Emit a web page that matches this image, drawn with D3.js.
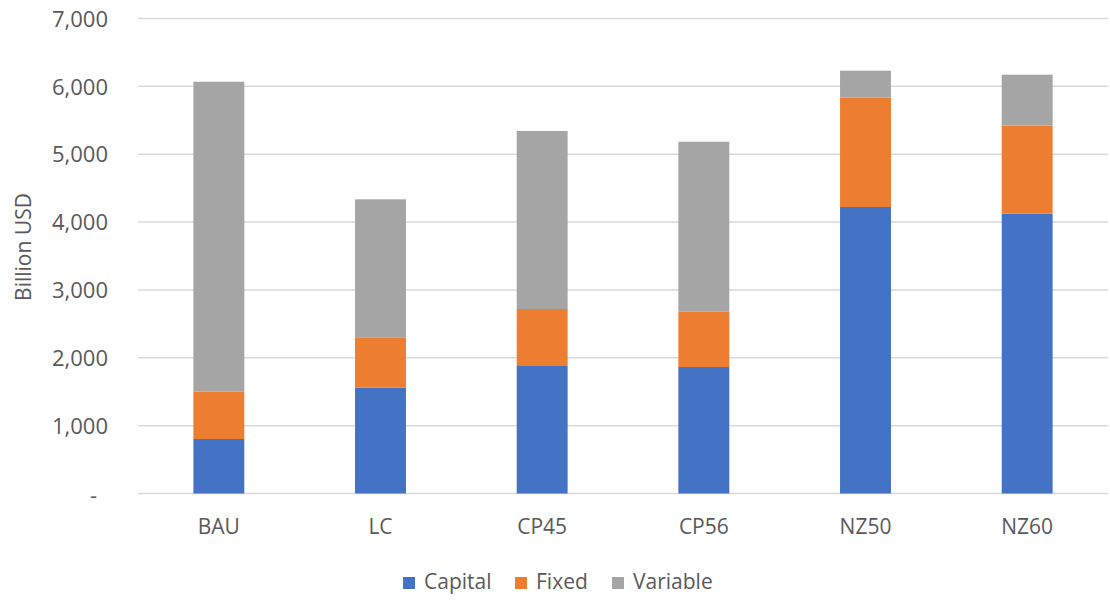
<!DOCTYPE html>
<html>
<head>
<meta charset="utf-8">
<script src="https://cdn.jsdelivr.net/npm/d3@7"></script>
<style>
  html, body { margin: 0; padding: 0; background: #fff; }
  svg text { font-family: "Open Sans", "Noto Sans", sans-serif; fill: #595959; }
</style>
</head>
<body>
<svg id="chart" width="1110" height="601"></svg>
<script>
// Scenario costs, billion USD
const scenarios = ["BAU", "LC", "CP45", "CP56", "NZ50", "NZ60"];
const capital  = [803, 1559, 1879, 1864, 4222, 4123];
const fixed    = [697, 743, 840, 815, 1611, 1297];
const variable = [4568, 2033, 2623, 2505, 398, 752];
const seriesNames = ["Capital", "Fixed", "Variable"];
const seriesColors = ["#4472c4", "#ed7d31", "#a5a5a5"];
const yTicks = [0, 1000, 2000, 3000, 4000, 5000, 6000, 7000];

const svg = d3.select("#chart");
const margin = { left: 138, right: 2, top: 18.5, bottom: 107.5 };
const W = 1110, H = 601;

const x = d3.scaleBand()
  .domain(scenarios)
  .range([margin.left, W - margin.right])
  .paddingInner(0.685)
  .paddingOuter(0.3425);

const y = d3.scaleLinear()
  .domain([0, 7000])
  .range([H - margin.bottom, margin.top]);

// Gridlines
svg.append("g")
  .selectAll("line")
  .data(yTicks)
  .join("line")
  .attr("x1", margin.left)
  .attr("x2", W - margin.right)
  .attr("y1", d => y(d))
  .attr("y2", d => y(d))
  .attr("stroke", "#d9d9d9")
  .attr("stroke-width", 1.5);

// Y axis labels
const yAxis = d3.axisLeft(y)
  .tickValues(yTicks)
  .tickSize(0)
  .tickPadding(0)
  .tickFormat(d => d === 0 ? "-" : d3.format(",")(d));
const gy = svg.append("g")
  .attr("transform", `translate(108,0)`)
  .call(yAxis);
gy.select(".domain").remove();
gy.selectAll("text")
  .attr("font-size", 22)
  .attr("dy", "0.35em")
  .style("font-family", '"Open Sans", "Noto Sans", sans-serif')
  .attr("fill", "#595959");
gy.selectAll(".tick").filter(d => d === 0).select("text")
  .attr("x", -11)
  .attr("dy", "0.42em");

// Axis title
svg.append("text")
  .attr("transform", `translate(31,247) rotate(-90)`)
  .attr("text-anchor", "middle")
  .attr("font-size", 21)
  .text("Billion USD");

// Stacked bars
const rows = scenarios.map((s, i) => ({
  scenario: s, Capital: capital[i], Fixed: fixed[i], Variable: variable[i]
}));
const stack = d3.stack().keys(seriesNames)(rows);

svg.append("g")
  .selectAll("g")
  .data(stack)
  .join("g")
  .attr("fill", (d, i) => seriesColors[i])
  .selectAll("rect")
  .data(d => d)
  .join("rect")
  .attr("x", d => x(d.data.scenario))
  .attr("width", x.bandwidth())
  .attr("y", d => y(d[1]))
  .attr("height", d => y(d[0]) - y(d[1]));

// X axis labels
const xAxis = d3.axisBottom(x).tickSize(0).tickPadding(0);
const gx = svg.append("g")
  .attr("transform", `translate(0,${y(0) + 40.5})`)
  .call(xAxis);
gx.select(".domain").remove();
gx.selectAll("text")
  .attr("font-size", 21)
  .attr("dy", "0")
  .style("font-family", '"Open Sans", "Noto Sans", sans-serif')
  .attr("fill", "#595959");

// Legend
const legendX = [403, 515, 612];
const legend = svg.append("g");
seriesNames.forEach((name, i) => {
  legend.append("rect")
    .attr("x", legendX[i])
    .attr("y", 577)
    .attr("width", 12)
    .attr("height", 12)
    .attr("fill", seriesColors[i]);
  legend.append("text")
    .attr("x", legendX[i] + 21)
    .attr("y", 589)
    .attr("font-size", 21)
    .text(name);
});
</script>
</body>
</html>
